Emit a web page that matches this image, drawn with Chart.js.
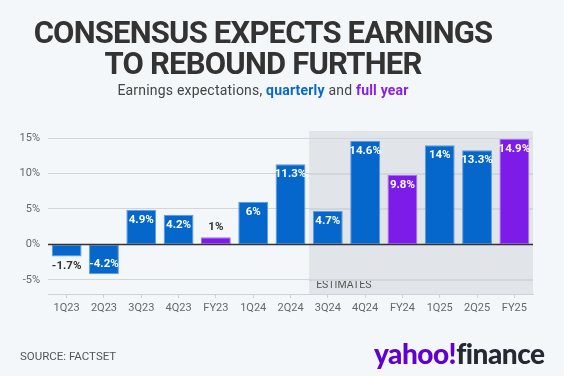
<!DOCTYPE html>
<html>
<head>
<meta charset="utf-8">
<script src="https://cdn.jsdelivr.net/npm/chart.js@4.4.1/dist/chart.umd.min.js"></script>
<style>
  html, body { margin: 0; padding: 0; background: #f4f7fa; }
  body { width: 564px; height: 376px; position: relative; overflow: hidden; font-family: Roboto, "Liberation Sans", sans-serif; }
  #title { position: absolute; top: 17px; left: 0; width: 526px; text-align: center; font-weight: 700; font-size: 31px; line-height: 31px; color: #333; letter-spacing: -0.8px; }
  #sub { position: absolute; top: 82px; left: 0; width: 526px; text-align: center; font-size: 14px; color: #444; letter-spacing: 0.2px; }
  #sub .q { color: #0a66d0; font-weight: 700; }
  #sub .f { color: #8a1ee6; font-weight: 700; }
  #wrap { position: absolute; top: 0; left: 0; width: 564px; height: 376px; }
  #source { position: absolute; left: 20px; top: 349px; font-size: 11.5px; color: #555; }
  #logo { position: absolute; left: 374px; top: 336px; font-family: Lato, sans-serif; font-weight: 900; font-size: 28px; letter-spacing: -0.5px; }
  #logo .y { color: #6001d2; }
  #logo .fi { color: #232a31; }
</style>
</head>
<body>
<div id="wrap"><canvas id="chart" width="564" height="376"></canvas></div>
<div id="title">CONSENSUS EXPECTS EARNINGS<br>TO REBOUND FURTHER</div>
<div id="sub">Earnings expectations, <span class="q">quarterly</span> and <span class="f">full year</span></div>
<div id="source">SOURCE: FACTSET</div>
<div id="logo"><span class="y">yahoo!</span><span class="fi">finance</span></div>
<script>
// ── Data ───────────────────────────────────────────────────────────────────
const categories = ['1Q23', '2Q23', '3Q23', '4Q23', 'FY23', '1Q24', '2Q24', '3Q24', '4Q24', 'FY24', '1Q25', '2Q25', 'FY25'];
const growth     = [-1.7, -4.2, 4.9, 4.2, 1, 6, 11.3, 4.7, 14.6, 9.8, 14, 13.3, 14.9];
const fullYear   = [false, false, false, false, true, false, false, false, false, true, false, false, true];
const yTicks     = [-5, 0, 5, 10, 15];
const firstEstimate = '3Q24';

const BLUE = '#0566cb';
const PURPLE = '#7d1ce8';

// ── Shaded estimates region ────────────────────────────────────────────────
const estimatesBand = {
  id: 'estimatesBand',
  beforeDatasetsDraw(chart) {
    const { ctx, chartArea, scales } = chart;
    const i = categories.indexOf(firstEstimate);
    const x0 = (scales.x.getPixelForValue(i - 1) + scales.x.getPixelForValue(i)) / 2;
    ctx.save();
    ctx.fillStyle = 'rgba(210,214,218,0.55)';
    ctx.fillRect(x0, chartArea.top, chartArea.right - x0, chartArea.bottom - chartArea.top);
    ctx.fillStyle = '#555';
    ctx.font = '10.5px Roboto, sans-serif';
    ctx.textBaseline = 'alphabetic';
    ctx.fillText('ESTIMATES', x0 + 7, chartArea.bottom - 6);
    // redraw gridlines over the band
    ctx.strokeStyle = '#d3d6d9';
    ctx.lineWidth = 1;
    yTicks.filter(v => v !== 0).forEach(v => {
      const y = Math.round(scales.y.getPixelForValue(v)) + 0.5;
      ctx.beginPath(); ctx.moveTo(x0, y); ctx.lineTo(chartArea.right, y); ctx.stroke();
    });
    ctx.restore();
  }
};

// ── Zero line + value labels ───────────────────────────────────────────────
const valueLabels = {
  id: 'valueLabels',
  afterDatasetsDraw(chart) {
    const { ctx, chartArea, scales } = chart;
    const y0 = scales.y.getPixelForValue(0);
    ctx.save();
    ctx.strokeStyle = '#333';
    ctx.lineWidth = 1.5;
    ctx.beginPath(); ctx.moveTo(chartArea.left, y0); ctx.lineTo(chartArea.right, y0); ctx.stroke();

    ctx.font = 'bold 11.5px Roboto, sans-serif';
    ctx.textAlign = 'center';
    ctx.textBaseline = 'middle';
    const meta = chart.getDatasetMeta(0);
    meta.data.forEach((bar, i) => {
      const v = growth[i];
      const txt = v + '%';
      const h = Math.abs(bar.y - bar.base);
      let y, color;
      if (h < 20) {
        color = '#333';
        y = v >= 0 ? bar.y - 10 : bar.y + 10;
      } else {
        color = '#fff';
        y = v >= 0 ? bar.y + 10 : bar.y - 10;
      }
      ctx.fillStyle = color;
      ctx.fillText(txt, bar.x, y);
    });
    ctx.restore();
  }
};

new Chart(document.getElementById('chart'), {
  type: 'bar',
  data: {
    labels: categories,
    datasets: [{
      data: growth,
      backgroundColor: fullYear.map(f => f ? PURPLE : BLUE),
      borderColor: fullYear.map(f => f ? '#a873f0' : '#5b9be0'),
      borderWidth: 1,
      borderSkipped: false,
      barPercentage: 0.8,
      categoryPercentage: 1,
    }]
  },
  options: {
    responsive: false,
    animation: false,
    devicePixelRatio: 1,
    layout: { padding: { top: 131, right: 31, bottom: 62, left: 0 } },
    plugins: { legend: { display: false }, tooltip: { enabled: false } },
    scales: {
      x: {
        grid: { display: true, drawOnChartArea: false, drawTicks: true, tickLength: 4, offset: false, color: '#cfd2d5' },
        border: { display: true, color: '#cfd2d5' },
        ticks: { color: '#666', font: { size: 11, family: 'Roboto' }, padding: 4, maxRotation: 0, autoSkip: false },
        afterFit(scale) { scale.height = 20; },
      },
      y: {
        min: -7,
        max: 16,
        afterBuildTicks(scale) { scale.ticks = yTicks.map(v => ({ value: v })); },
        grid: { color: '#d3d6d9', drawTicks: false },
        border: { display: false },
        ticks: { color: '#666', font: { size: 11, family: 'Roboto' }, padding: 8, callback: v => v + '%' },
        afterFit(scale) { scale.width = 48; },
      }
    }
  },
  plugins: [estimatesBand, valueLabels]
});
</script>
</body>
</html>
